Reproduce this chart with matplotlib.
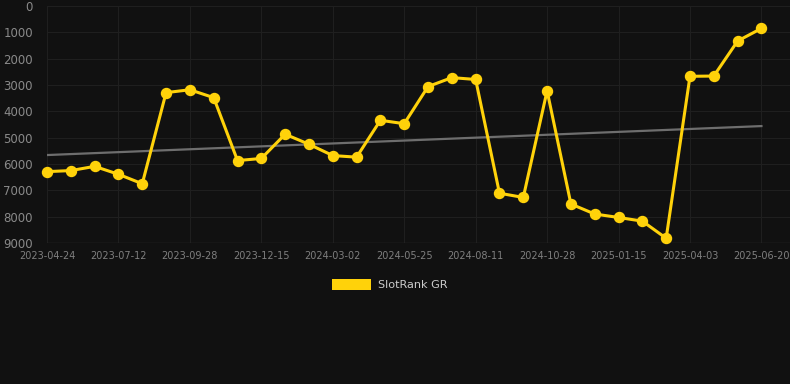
import matplotlib
matplotlib.use("Agg")
import matplotlib.pyplot as plt
from matplotlib.patches import Rectangle

tick_labels = ["2023-04-24", "2023-07-12", "2023-09-28", "2023-12-15", "2024-03-02",
               "2024-05-25", "2024-08-11", "2024-10-28", "2025-01-15", "2025-04-03",
               "2025-06-20"]
rank_values = [6290, 6250, 6090, 6390, 6750, 3290, 3180, 3480, 5870, 5790,
               4870, 5250, 5680, 5740, 4340, 4470, 3060, 2720, 2790, 7110,
               7270, 3220, 7520, 7900, 8030, 8170, 8820, 2670, 2660, 1330, 850]
trend_values = [5660, 4560]
series_name = "SlotRank GR"
y_ticks = [0, 1000, 2000, 3000, 4000, 5000, 6000, 7000, 8000, 9000]

BG = "#111111"
GOLD = "#FFD20A"

fig = plt.figure(figsize=(7.9, 3.84), dpi=100, facecolor=BG)
ax = fig.add_axes([47 / 790, 1 - 243 / 384, 1 - 47 / 790, (243 - 6) / 384])
ax.set_facecolor(BG)

x = list(range(len(rank_values)))
ax.plot([x[0], x[-1]], trend_values, color="#6e6e6e", lw=1.6, zorder=2)
ax.plot(x, rank_values, color=GOLD, lw=2.2, marker="o", markersize=7.2,
        markerfacecolor=GOLD, markeredgecolor=GOLD, zorder=3, clip_on=False)

ax.set_ylim(9000, 0)
ax.set_xlim(0, 31.2)
ax.set_yticks(y_ticks)
ax.set_yticklabels([str(v) for v in y_ticks])
tick_pos = list(range(0, len(rank_values), 3))
ax.set_xticks(tick_pos)
ax.set_xticklabels(tick_labels)

ax.grid(True, color="#1f1f1f", lw=0.8)
ax.set_axisbelow(True)
for s in ax.spines.values():
    s.set_visible(False)
ax.axhline(9000, color="#2b2b2b", lw=1.0, zorder=1)

ax.tick_params(axis="y", colors="#8a8a8a", labelsize=8.5, length=0, pad=10)
ax.tick_params(axis="x", colors="#7f7f7f", labelsize=7, length=0, pad=6)

# legend
fig.patches.append(Rectangle((332 / 790, 1 - 290 / 384), 39 / 790, 11 / 384,
                             transform=fig.transFigure, facecolor=GOLD,
                             edgecolor="none"))
fig.text(378 / 790, 1 - 285 / 384, series_name, color="#cccccc", fontsize=8.1,
         va="center", ha="left")

fig.savefig("out.png", dpi=100, facecolor=BG)
